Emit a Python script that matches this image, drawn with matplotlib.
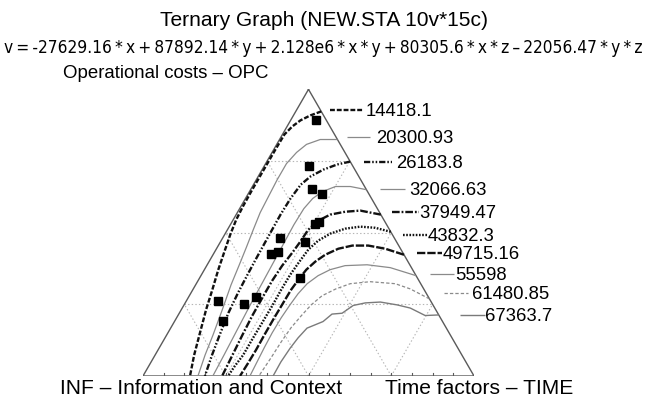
import numpy as np
import matplotlib
matplotlib.use("Agg")
import matplotlib.pyplot as plt
from matplotlib import font_manager
from matplotlib.font_manager import FontProperties

plt.rcParams['lines.scale_dashes'] = False

# ---------------- data ----------------
title = "Ternary Graph (NEW.STA 10v*15c)"
_ts = "\u2009"
equation = _ts.join(["v", "=", "-27629.16", "*", "x", "+", "87892.14", "*", "y", "+", "2.128e6", "*", "x",
                     "*", "y", "+", "80305.6", "*", "x", "*", "z", "\u2013", "22056.47", "*", "y", "*", "z"])
label_top = "Operational costs \u2013 OPC"
label_left = "INF \u2013 Information and Context"
label_right = "Time factors \u2013 TIME"

level_labels = ["14418.1", "20300.93", "26183.8", "32066.63", "37949.47",
                "43832.3", "49715.16", "55598", "61480.85", "67363.7"]

# contour traces, ternary fractions (OPC, TIME); INF = 1 - OPC - TIME
c1_opc = [.923, .909, .892, .871, .843, .790, .717, .650, .594, .545, .493, .434, .371, .301, .231, .150, .073, 0]
c1_time = [.077, .051, .030, .016, .006, .005, .005, .005, .006, .009, .017, .029, .042, .059, .075, .097, .118, .142]

c2_opc = [.825, .825, .808, .780, .741, .685, .626, .570, .510, .448, .388, .318, .231, .143, .073, 0]
c2_time = [.175, .123, .090, .074, .063, .063, .066, .069, .078, .088, .097, .107, .124, .140, .151, .166]

c3_opc = [.748, .738, .720, .696, .668, .619, .563, .503, .458, .413, .353, .290, .220, .143, .073, 0]
c3_time = [.252, .218, .185, .158, .143, .136, .134, .135, .136, .137, .139, .142, .148, .160, .172, .187]

c4_opc = [.650, .661, .661, .643, .619, .584, .528, .458, .395, .325, .248, .161, .077, 0]
c4_time = [.350, .296, .251, .220, .203, .194, .192, .194, .196, .198, .200, .204, .208, .211]

c5_opc = [.563, .577, .573, .563, .542, .510, .469, .430, .385, .332, .273, .210, .140, .070, 0]
c5_time = [.437, .368, .324, .284, .259, .244, .241, .236, .228, .224, .224, .225, .229, .234, .239]

c6_opc = [.503, .517, .521, .514, .497, .472, .441, .399, .353, .301, .245, .185, .126, .073, .035, 0]
c6_time = [.497, .443, .396, .354, .318, .293, .279, .273, .268, .267, .268, .267, .266, .266, .260, .257]

c7_opc = [.423, .444, .455, .455, .444, .423, .399, .371, .339, .301, .255, .203, .147, .091, .045, 0]
c7_time = [.577, .510, .453, .405, .368, .339, .321, .308, .302, .297, .296, .295, .295, .296, .295, .293]

c8_opc = [.350, .378, .388, .385, .371, .350, .322, .287, .248, .203, .150, .098, .049, 0]
c8_time = [.650, .558, .483, .418, .380, .354, .335, .325, .320, .316, .315, .317, .320, .323]

c9_opc = [.269, .304, .322, .329, .322, .304, .280, .248, .210, .168, .119, .063, 0]
c9_time = [.731, .655, .601, .522, .465, .431, .401, .384, .373, .363, .358, .355, .350]

c10_opc = [.213, .211, .237, .248, .258, .255, .246, .219, .216, .190, .167, .133, .097, .049, 0]
c10_time = [.787, .747, .689, .644, .588, .544, .512, .492, .463, .449, .412, .402, .396, .392, .393]

# observed cases (15c)
pts_opc = [.892, .734, .652, .635, .531, .538, .481, .466, .425, .431, .342, .263, .252, .274, .192]
pts_time = [.078, .136, .185, .223, .255, .263, .172, .257, .175, .191, .302, .096, .178, .204, .147]

contours_opc = [c1_opc, c2_opc, c3_opc, c4_opc, c5_opc, c6_opc, c7_opc, c8_opc, c9_opc, c10_opc]
contours_time = [c1_time, c2_time, c3_time, c4_time, c5_time, c6_time, c7_time, c8_time, c9_time, c10_time]

# ---------------- styles ----------------
BLK = '#111111'
GRY = '#8a8a8a'
styles = [
    dict(color=BLK, lw=1.7, dashes=(3.5, 1.4)),
    dict(color=GRY, lw=0.9, ls='-'),
    dict(color=BLK, lw=1.7, dashes=(4.5, 1.4, 1.1, 1.4, 1.1, 1.4)),
    dict(color=GRY, lw=0.9, ls='-'),
    dict(color=BLK, lw=1.7, dashes=(5.5, 1.4, 1.3, 1.4)),
    dict(color=BLK, lw=1.7, dashes=(1.2, 1.1)),
    dict(color=BLK, lw=1.7, dashes=(6.0, 1.4)),
    dict(color=GRY, lw=0.9, ls='-'),
    dict(color=GRY, lw=0.9, dashes=(2.4, 1.5)),
    dict(color='#7a7a7a', lw=1.0, ls='-'),
]
# legend layout in pixels relative to each contour's end on the right edge
leg_dx = [9.2, 9.2, 13.8, 13.6, 11.6, 12.2, 12.8, 14.0, 14.7, 21.5]
leg_dy = [1.3, 2.7, -0.5, 0.5, 3.0, -3.0, 1.5, 2.0, 5.7, 0.0]
leg_len = [33.3, 23.3, 28.4, 24.7, 26.6, 25.0, 25.7, 24.0, 23.4, 24.7]
leg_gap = [1.7, 6.4, 3.3, 4.3, 0.0, 0.0, 0.6, 0.7, 4.0, 0.0]

W, H, DPI = 648, 405, 100
S3 = np.sqrt(3) / 2
PX = 1 / 331.0  # data units per pixel


def tern(opc, time):
    opc = np.asarray(opc, float)
    time = np.asarray(time, float)
    return time + opc / 2, opc * S3


names = {f.name for f in font_manager.fontManager.ttflist}
FAM = 'Liberation Sans' if 'Liberation Sans' in names else 'DejaVu Sans'
plt.rcParams['font.family'] = [FAM, 'DejaVu Sans']

# narrow font for the long equation line, if one is installed
eq_prop = FontProperties(family=FAM)
narrow = None
for pref in ['LiberationSansNarrow-Regular', 'DejaVuSansCondensed.', 'Condensed-Regular', 'Narrow-Regular']:
    for f in font_manager.fontManager.ttflist:
        if pref in f.fname.replace('\\', '/').split('/')[-1]:
            narrow = f.fname
            break
    if narrow:
        break
if narrow:
    eq_prop = FontProperties(fname=narrow)

fig = plt.figure(figsize=(W / DPI, H / DPI), dpi=DPI)
fig.patch.set_facecolor('white')
ax = fig.add_axes([143 / W, 29 / H, 331 / W, 331 * S3 / H])
ax.set_xlim(0, 1)
ax.set_ylim(0, S3)
ax.axis('off')

# grid lines
for v in [0.25, 0.5, 0.75]:
    for (o, t) in [([v, v], [0, 1 - v]), ([0, 1 - v], [v, v]), ([0, 1 - v], [1 - v, 0])]:
        x, y = tern(o, t)
        ax.plot(x, y, color='#b5b5b5', lw=0.8, dashes=(1.0, 1.6), zorder=1)

# triangle edges
x, y = tern([1, 0, 0, 1], [0, 0, 1, 0])
ax.plot(x, y, color='#5a5a5a', lw=1.0, zorder=2, solid_joinstyle='miter')

# base ticks
for k in range(1, 16):
    ax.plot([k / 16, k / 16], [0, 3 * PX], color='#5a5a5a', lw=0.8, zorder=2)

# contours
for i in range(10):
    x, y = tern(contours_opc[i], contours_time[i])
    ax.plot(x, y, zorder=3, solid_capstyle='butt', dash_capstyle='butt', **styles[i])
    x0 = x[0] + leg_dx[i] * PX
    y0 = y[0] + leg_dy[i] * PX
    x1 = x0 + leg_len[i] * PX
    ax.plot([x0, x1], [y0, y0], clip_on=False, zorder=3,
            solid_capstyle='butt', dash_capstyle='butt', **styles[i])
    ax.text(x1 + leg_gap[i] * PX, y0 - 1.5 * PX, level_labels[i], fontsize=13.3,
            ha='left', va='center', clip_on=False)

# observed points
x, y = tern(pts_opc, pts_time)
ax.plot(x, y, ls='none', marker='s', ms=5.6, color='black', zorder=4, clip_on=False)

# texts
def px2fig(xp, yp):
    return xp / W, 1 - yp / H

fig.text(*px2fig(323.5, 21), title, fontsize=15.1, ha='center', va='center')
eq = fig.text(*px2fig(323.5, 48), equation, fontsize=14, ha='center', va='center',
              fontproperties=eq_prop)
eq.set_fontsize(14)
fig.text(*px2fig(63, 74), label_top, fontsize=13.4, ha='left', va='center')
fig.text(*px2fig(60, 388), label_left, fontsize=15.1, ha='left', va='center')
fig.text(*px2fig(385, 388), label_right, fontsize=15.1, ha='left', va='center')

fig.canvas.draw()
w = eq.get_window_extent().width
eq.set_fontsize(14 * 639 / w)

fig.savefig('out.png', dpi=DPI, facecolor='white')
